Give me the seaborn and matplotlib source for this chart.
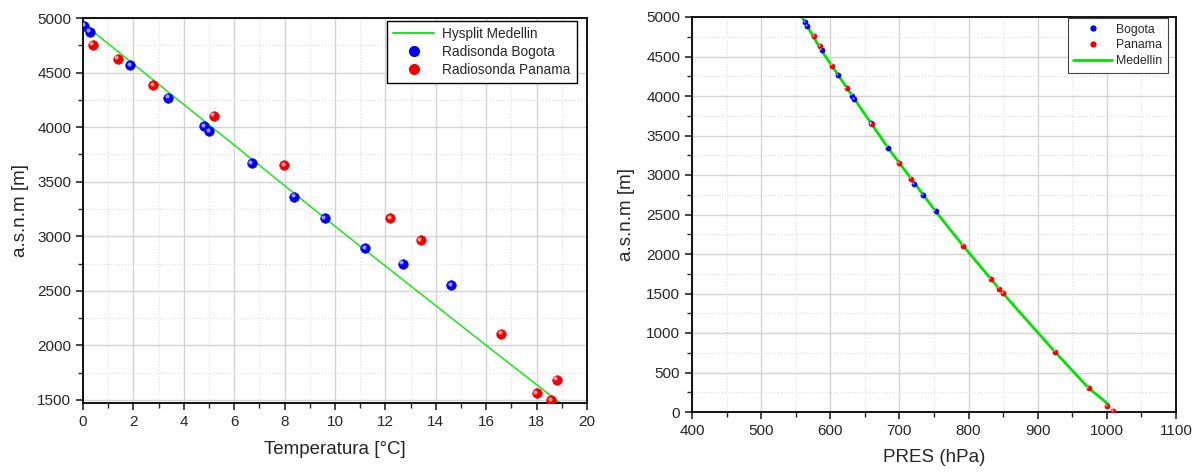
import numpy as np
import matplotlib
matplotlib.use('Agg')
import matplotlib.pyplot as plt
import matplotlib.transforms as mtransforms
from matplotlib.ticker import MultipleLocator
import seaborn as sns

sns.set_style("ticks")
plt.rcParams['font.family'] = ['Liberation Sans', 'DejaVu Sans']

# --- left panel: temperature vs altitude ---
hysplit_temp = [0.0, 4.9, 10.5, 16.0, 19.0]
hysplit_alt = [4950, 4040, 3000, 2000, 1460]

bogota_temp = [0.05, 0.27, 1.88, 3.39, 4.8, 5.0, 6.69, 8.39, 9.59, 11.2, 12.69, 14.6]
bogota_alt = [4930, 4876, 4567, 4270, 4006, 3964, 3667, 3361, 3164, 2893, 2747, 2549]

panama_temp = [0.38, 1.38, 2.78, 5.18, 7.99, 12.2, 13.4, 16.6, 18.0, 18.59, 18.8]
panama_alt = [4755, 4627, 4382, 4106, 3652, 3164, 2963, 2107, 1564, 1500, 1686]

# --- right panel: pressure vs altitude ---
bogota_pres = [563.6, 567.0, 587.5, 611.3, 631.3, 634.6, 659.6, 682.9, 721.7, 734.4, 752.2]
bogota_alt_p = [4932, 4881, 4576, 4267, 4004, 3962, 3653, 3347, 2886, 2742, 2542]

panama_pres = [576.4, 585.2, 603.0, 623.5, 660.1, 700.0, 716.7, 792.1, 832.0, 844.2, 850.3,
               925.2, 973.5, 1000.1, 1009.0]
panama_alt_p = [4754, 4627, 4386, 4102, 3644, 3148, 2953, 2106, 1683, 1560, 1501,
                761, 300, 76, 13]

medellin_pres = [559, 587, 632, 683, 752, 792, 850, 925, 974, 1002]
medellin_alt = [5000, 4580, 4000, 3350, 2545, 2106, 1500, 761, 300, 100]

GREEN = '#19e619'
BLUE = '#0000f0'
RED = '#f00000'


def style_axes(ax):
    ax.grid(which='major', color='#d4d4d4', linewidth=1.0, linestyle='-')
    ax.grid(which='minor', color='#dedede', linewidth=0.8, linestyle=':')
    ax.set_axisbelow(True)
    for sp in ax.spines.values():
        sp.set_visible(True)
        sp.set_linewidth(1.3)
        sp.set_color('black')
    ax.tick_params(which='major', direction='out', length=5, width=1.2, labelsize=11,
                   top=False, right=False)
    ax.tick_params(which='minor', direction='out', length=3.5, width=1.0,
                   top=False, right=False)


def shiny(ax, x, y, color, size):
    sns.scatterplot(x=x, y=y, ax=ax, color=color, s=size, edgecolor=color,
                    linewidth=0.4, zorder=3)
    hl = mtransforms.offset_copy(ax.transData, fig=ax.figure, x=-1.0, y=1.0, units='points')
    ax.scatter(x, y, s=size * 0.18, color='white', alpha=0.6, linewidths=0,
               transform=hl, zorder=4)


fig = plt.figure(figsize=(12.01, 4.76), dpi=100)
ax1 = fig.add_axes([83 / 1201, 1 - 403 / 476, (587 - 83) / 1201, (403 - 18) / 476])
ax2 = fig.add_axes([692 / 1201, 1 - 412 / 476, (1176 - 692) / 1201, (412 - 17) / 476])

# left
sns.lineplot(x=hysplit_temp, y=hysplit_alt, ax=ax1, color=GREEN, linewidth=1.1,
             sort=False, estimator=None, label='Hysplit Medellin', zorder=2)
shiny(ax1, bogota_temp, bogota_alt, BLUE, 48)
shiny(ax1, panama_temp, panama_alt, RED, 48)
ax1.set_xlim(0, 20)
ax1.set_ylim(1472, 5000)
ax1.xaxis.set_major_locator(MultipleLocator(2))
ax1.xaxis.set_minor_locator(MultipleLocator(1))
ax1.yaxis.set_major_locator(MultipleLocator(500))
ax1.yaxis.set_minor_locator(MultipleLocator(250))
ax1.set_xlabel('Temperatura [°C]', fontsize=13.5, labelpad=9)
ax1.set_ylabel('a.s.n.m [m]', fontsize=13.5, labelpad=6)
style_axes(ax1)

h_line = plt.Line2D([], [], color=GREEN, linewidth=1.4)
h_b = plt.Line2D([], [], color=BLUE, marker='o', linestyle='none', markersize=7)
h_r = plt.Line2D([], [], color=RED, marker='o', linestyle='none', markersize=7)
leg1 = ax1.legend([h_line, h_b, h_r], ['Hysplit Medellin', 'Radisonda Bogota', 'Radiosonda Panama'],
                  loc='upper right', fontsize=9.8, frameon=True, fancybox=False,
                  edgecolor='black', framealpha=1, borderpad=0.45, handlelength=3.0,
                  handletextpad=0.6, labelspacing=0.3, borderaxespad=0.2,
                  bbox_to_anchor=(0.985, 1.0))
leg1.get_frame().set_linewidth(1.0)

# right
shiny(ax2, bogota_pres, bogota_alt_p, BLUE, 14)
shiny(ax2, panama_pres, panama_alt_p, RED, 14)
sns.lineplot(x=medellin_pres, y=medellin_alt, ax=ax2, color='#00e400', linewidth=2.0,
             sort=False, estimator=None, zorder=2)
ax2.set_xlim(400, 1100)
ax2.set_ylim(0, 5000)
ax2.xaxis.set_major_locator(MultipleLocator(100))
ax2.xaxis.set_minor_locator(MultipleLocator(50))
ax2.yaxis.set_major_locator(MultipleLocator(500))
ax2.yaxis.set_minor_locator(MultipleLocator(250))
ax2.set_xlabel('PRES (hPa)', fontsize=13.5, labelpad=8)
ax2.set_ylabel('a.s.n.m [m]', fontsize=13.5, labelpad=8)
style_axes(ax2)

g_b = plt.Line2D([], [], color=BLUE, marker='o', linestyle='none', markersize=3.5)
g_r = plt.Line2D([], [], color=RED, marker='o', linestyle='none', markersize=3.5)
g_l = plt.Line2D([], [], color='#00e400', linewidth=2.0)
leg2 = ax2.legend([g_b, g_r, g_l], ['Bogota', 'Panama', 'Medellin'],
                  loc='upper right', fontsize=8.8, frameon=True, fancybox=False,
                  edgecolor='#444444', framealpha=1, borderpad=0.45, handlelength=3.2,
                  handletextpad=0.3, labelspacing=0.3, borderaxespad=0.1,
                  bbox_to_anchor=(0.985, 1.0))
leg2.get_frame().set_linewidth(0.8)

fig.savefig('out.png', dpi=100)
